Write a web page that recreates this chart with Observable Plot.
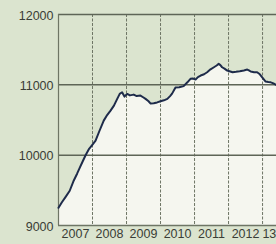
<!DOCTYPE html>
<html>
<head>
<meta charset="utf-8">
<script src="https://cdn.jsdelivr.net/npm/d3@7"></script>
<script src="https://cdn.jsdelivr.net/npm/@observablehq/plot@0.6"></script>
<style>
  html, body { margin: 0; padding: 0; background: #dbe4cf; }
  #chart svg { display: block; }
</style>
</head>
<body>
<div id="chart"></div>
<script>
// Time (decimal years) and index values
const dates = [2007.00, 2007.10, 2007.20, 2007.33, 2007.45, 2007.55, 2007.63, 2007.72, 2007.80, 2007.90,
  2008.00, 2008.09, 2008.20, 2008.33, 2008.43, 2008.53, 2008.63, 2008.73, 2008.80, 2008.87, 2008.91,
  2008.94, 2009.02, 2009.10, 2009.21, 2009.30, 2009.41, 2009.50, 2009.56, 2009.64, 2009.71, 2009.80,
  2009.90, 2010.00, 2010.10, 2010.20, 2010.28, 2010.34, 2010.44, 2010.55, 2010.68, 2010.79, 2010.88,
  2010.95, 2011.03, 2011.10, 2011.18, 2011.28, 2011.37, 2011.47, 2011.57, 2011.65, 2011.71, 2011.76,
  2011.81, 2011.88, 2011.96, 2012.05, 2012.12, 2012.22, 2012.33, 2012.45, 2012.55, 2012.60, 2012.65,
  2012.75, 2012.84, 2012.92, 2012.99, 2013.09, 2013.17, 2013.24, 2013.32, 2013.41];
const values = [9252, 9330, 9400, 9494, 9640, 9740, 9826, 9920, 10002, 10090,
  10150, 10206, 10340, 10491, 10570, 10633, 10704, 10804, 10871, 10894, 10860,
  10833, 10871, 10850, 10861, 10840, 10847, 10820, 10800, 10770, 10733, 10737,
  10750, 10766, 10780, 10800, 10840, 10875, 10961, 10965, 10982, 11036, 11085,
  11090, 11075, 11110, 11132, 11150, 11179, 11220, 11250, 11275, 11298, 11280,
  11250, 11230, 11203, 11190, 11179, 11185, 11193, 11205, 11217, 11205, 11189,
  11180, 11179, 11150, 11107, 11046, 11040, 11036, 11020, 10996];

const yTicks = [9000, 10000, 11000, 12000];
const gridValues = [10000, 11000, 12000];
const gridYears = [2008, 2009, 2010, 2011, 2012, 2013];
const yearTickPos = [2007.5, 2008.5, 2009.5, 2010.5, 2011.5, 2012.5, 2013.2];
const yearLabels = ["2007", "2008", "2009", "2010", "2011", "2012", "13"];

const data = dates.map((d, i) => ({date: d, value: values[i]}));

const chart = Plot.plot({
  width: 276,
  height: 244,
  marginLeft: 58,
  marginRight: 0,
  marginTop: 14,
  marginBottom: 19,
  style: {background: "#dbe4cf", fontFamily: "'Liberation Sans', Arial, sans-serif", fontSize: "12.5px", color: "#3a3d36"},
  x: {domain: [2007, 2013.41], axis: null, label: null},
  y: {domain: [9000, 12000], axis: null, label: null},
  marks: [
    Plot.areaY(data, {x: "date", y1: 9000, y2: "value", fill: "#f5f6ef", curve: "linear"}),
    Plot.ruleX(gridYears, {stroke: "#6e7565", strokeWidth: 1, strokeDasharray: "3,1.5"}),
    Plot.ruleY(gridValues, {stroke: "#5e6557", strokeWidth: 1.5}),
    Plot.ruleX([2007], {stroke: "#6e7565", strokeWidth: 1.2}),
    Plot.ruleY([9000], {stroke: "#6e7565", strokeWidth: 1.5}),
    Plot.line(data, {x: "date", y: "value", stroke: "#1e2b4a", strokeWidth: 2, strokeLinejoin: "round"}),
    Plot.axisY(yTicks, {tickSize: 0, tickPadding: 5, tickFormat: d => String(d), fill: "#3a3d36", dy: 1, label: null}),
    Plot.axisX(yearTickPos, {tickSize: 0, tickPadding: 4, tickFormat: (d, i) => yearLabels[i], fill: "#3a3d36", textAnchor: "middle", label: null})
  ]
});
document.getElementById("chart").appendChild(chart);
</script>
</body>
</html>
